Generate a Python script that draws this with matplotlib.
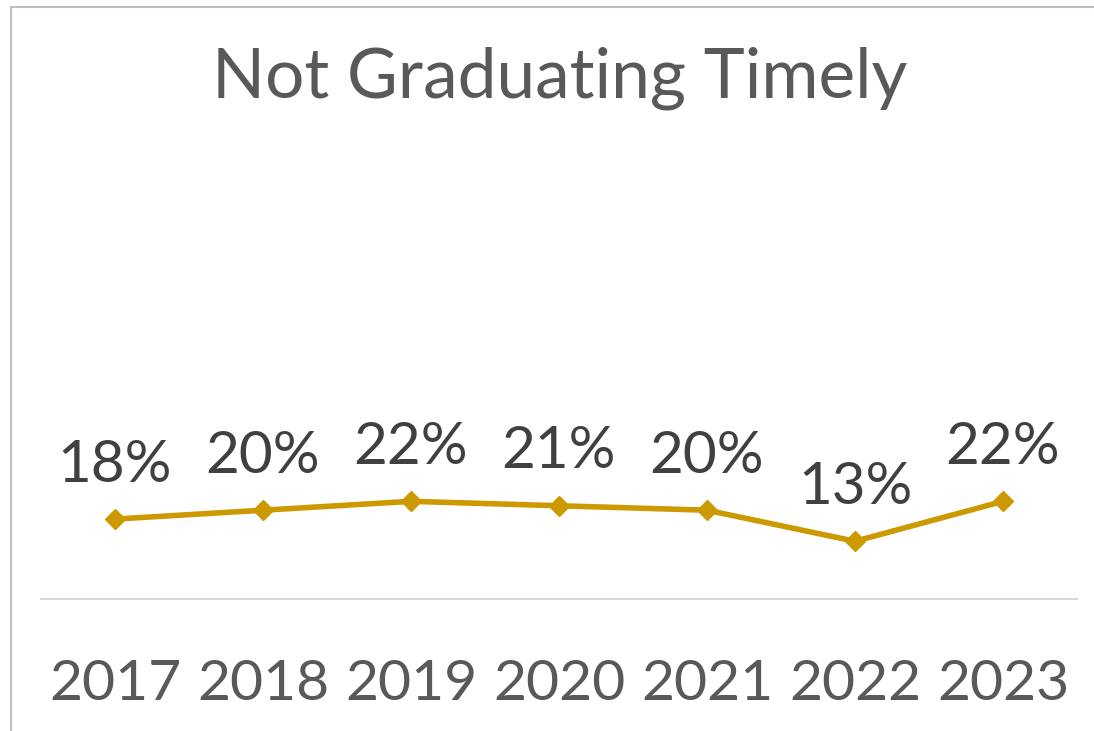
import matplotlib.pyplot as plt
from matplotlib.lines import Line2D

years = ['2017', '2018', '2019', '2020', '2021', '2022', '2023']
rates = [0.18, 0.20, 0.22, 0.21, 0.20, 0.13, 0.22]
labels = ['18%', '20%', '22%', '21%', '20%', '13%', '22%']

W, H = 1094, 731
fig = plt.figure(figsize=(W / 100, H / 100), dpi=100)
plt.rcParams['font.family'] = ['Lato', 'DejaVu Sans']

ax = fig.add_axes([41 / W, 1 - 599 / H, (1077 - 41) / W, (599 - 155) / H])
x = list(range(len(years)))
ax.plot(x, rates, color='#CC9900', lw=4, marker='D', markersize=10,
        solid_joinstyle='round')
for xi, yi, lab in zip(x, rates, labels):
    ax.annotate(lab, (xi, yi), xytext=(0, 27), textcoords='offset points',
                ha='center', va='baseline', fontsize=42, color='#404040')

ax.set_xlim(-0.5, len(years) - 0.5)
ax.set_ylim(0, 1)
ax.set_xticks(x)
ax.set_xticklabels(years, fontsize=41, color='#595959')
ax.tick_params(axis='x', length=0, pad=43)
ax.set_yticks([])
for s in ['top', 'left', 'right']:
    ax.spines[s].set_visible(False)
ax.spines['bottom'].set_color('#D9D9D9')
ax.spines['bottom'].set_linewidth(1.5)

fig.text(560 / W, 1 - 78 / H, 'Not Graduating Timely', ha='center', va='center',
         fontsize=50, color='#595959')

# chart border, cut off at right and bottom
fig.add_artist(Line2D([11 / W, 11 / W], [0, 1 - 7 / H], color='#BFBFBF', lw=1.5))
fig.add_artist(Line2D([11 / W, 1], [1 - 7 / H, 1 - 7 / H], color='#BFBFBF', lw=1.5))

fig.savefig('out.png', dpi=100)
